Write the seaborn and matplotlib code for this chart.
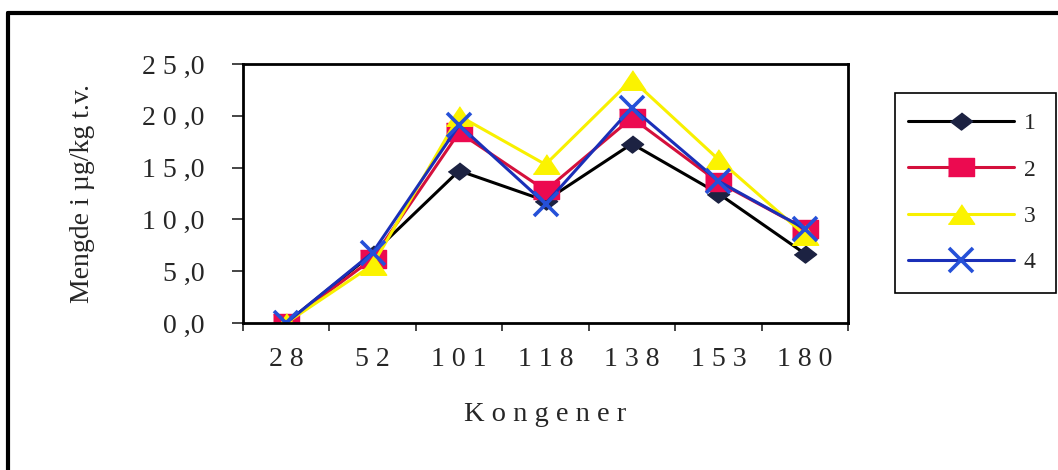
import matplotlib
matplotlib.use("Agg")
import matplotlib.pyplot as plt
from matplotlib.lines import Line2D
from matplotlib.patches import Rectangle
import pandas as pd
import seaborn as sns

# Kongener (x-kategorier)
kongener = ["28", "52", "101", "118", "138", "153", "180"]

# Mengde i ug/kg t.v. for hver prøve
serie_1 = [0.0, 6.7, 14.7, 11.8, 17.3, 12.5, 6.7]
serie_2 = [0.0, 6.2, 18.4, 12.8, 19.8, 13.6, 9.1]
serie_3 = [0.0, 5.6, 20.0, 15.3, 23.5, 15.8, 8.5]
serie_4 = [0.0, 6.8, 19.1, 11.5, 20.8, 13.7, 9.1]

serie_navn = ["1", "2", "3", "4"]
y_ticks = [0, 5, 10, 15, 20, 25]

W, H = 1058, 470


def y_tekst(v):
    # "25,0" -> "2 5 ,0" slik som i Excel-figuren
    heltall, desimal = f"{v:.1f}".split(".")
    return " ".join(heltall) + " ," + desimal


sns.set_style("white")
plt.rcParams["font.family"] = ["Liberation Serif", "DejaVu Serif"]

fig = plt.figure(figsize=(W / 100, H / 100), dpi=100)
ax = fig.add_axes([243 / W, 1 - 323 / H, 605 / W, 259 / H])

df = pd.DataFrame({
    "pos": list(range(len(kongener))) * 4,
    "verdi": serie_1 + serie_2 + serie_3 + serie_4,
    "serie": [n for n in serie_navn for _ in kongener],
})

# markørene er litt bredere enn høye i originalen
ruter = [(-1.3, 0), (0, -1), (1.3, 0), (0, 1)]
firkant = [(-1.45, -1), (1.45, -1), (1.45, 1), (-1.45, 1)]
trekant = [(-1.35, -1), (1.35, -1), (0, 1)]

stiler = {
    "1": dict(color="black", marker=ruter, mfc="#1c2242", mec="#1c2242", ms=16, mew=1),
    "2": dict(color="#d4103c", marker=firkant, mfc="#ec0a50", mec="#ec0a50", ms=19, mew=1),
    "3": dict(color="#f8f000", marker=trekant, mfc="#fbf300", mec="#fbf300", ms=19, mew=1),
    "4": dict(color="#1a2fb8", marker="x", mfc="#2550d8", mec="#2550d8", ms=17, mew=2.6),
}

handles = []
for navn in serie_navn:
    st = stiler[navn]
    sub = df[df["serie"] == navn]
    kw = dict(color=st["color"], linewidth=2.2, marker=st["marker"], markersize=st["ms"],
              markerfacecolor=st["mfc"], markeredgecolor=st["mec"], markeredgewidth=st["mew"])
    sns.lineplot(data=sub, x="pos", y="verdi", ax=ax, **kw)
    handles.append(Line2D([], [], **kw))

ax.set_xlim(-0.5, len(kongener) - 0.5)
ax.set_ylim(0, 25)

# y-akse
ax.set_yticks(y_ticks)
ax.set_yticklabels([y_tekst(v) for v in y_ticks], fontsize=20)
ax.tick_params(axis="y", direction="out", length=8, width=1.2, left=True, pad=19.5)

# x-akse: streker mellom kategoriene, tekst midt i
ax.set_xticks([i - 0.5 for i in range(len(kongener) + 1)])
ax.set_xticklabels([])
ax.set_xticks(range(len(kongener)), minor=True)
ax.set_xticklabels([" ".join(k) for k in kongener], minor=True, fontsize=20)
ax.tick_params(axis="x", which="major", direction="out", length=6, width=1.2, bottom=True)
ax.tick_params(axis="x", which="minor", length=0, pad=17)

ax.set_xlabel("K o n g e n e r", fontsize=20.5)
ax.xaxis.set_label_coords(0.5, -0.305)
ax.set_ylabel("Mengde i µg/kg t.v.", fontsize=20)
ax.yaxis.set_label_coords(-0.245, 0.5)

for sp in ax.spines.values():
    sp.set_color("black")
    sp.set_linewidth(2)

# forklaring med egen ramme
fig.add_artist(Rectangle((895 / W, 1 - 293 / H), 161 / W, 200 / H, transform=fig.transFigure,
                         fill=False, edgecolor="black", linewidth=1.2))
leg = fig.legend(handles, serie_navn, loc="center",
                 bbox_to_anchor=(972 / W, 1 - 193 / H), borderaxespad=0,
                 fontsize=17, handlelength=4.5, handletextpad=0.4,
                 labelspacing=1.05, frameon=False)

# ytre ramme (venstre og topp synlig)
fig.add_artist(Line2D([8 / W, 8 / W], [0, 1 - 13 / H], transform=fig.transFigure,
                      color="black", linewidth=3))
fig.add_artist(Line2D([8 / W, 1], [1 - 13 / H, 1 - 13 / H], transform=fig.transFigure,
                      color="black", linewidth=3))

fig.savefig("out.png", dpi=100)
